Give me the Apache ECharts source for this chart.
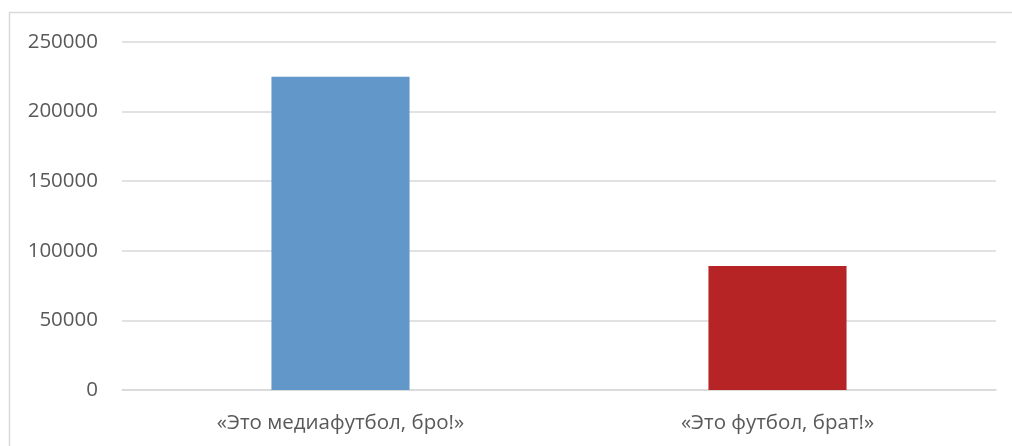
<!DOCTYPE html>
<html><head><meta charset="utf-8">
<script src="https://cdn.jsdelivr.net/npm/echarts@6/dist/echarts.min.js"></script>
<style>html,body{margin:0;padding:0;background:#fff;overflow:hidden}#c{width:1012px;height:446px}</style>
</head><body><div id="c"></div>
<script>
const categories = ["«Это медиафутбол, бро!»", "«Это футбол, брат!»"];
const values = [225000, 89000];
const barColors = ["#6297C9", "#B72426"];

const chart = echarts.init(document.getElementById('c'), null, {renderer: 'canvas'});
chart.setOption({
  animation: false,
  backgroundColor: '#fff',
  graphic: [{
    type: 'polyline', silent: true,
    shape: {points: [[9.5, 446], [9.5, 12.5], [1012, 12.5]]},
    style: {fill: 'none', stroke: '#d9d9d9', lineWidth: 1.5}
  }],
  grid: {left: 122, right: 16, top: 42, bottom: 56},
  xAxis: {
    type: 'category', data: categories,
    axisLine: {lineStyle: {color: '#d9d9d9', width: 1.5}},
    axisTick: {show: false},
    axisLabel: {color: '#595959', fontSize: 20.5, fontFamily: 'Open Sans, Noto Sans, sans-serif', margin: 23}
  },
  yAxis: {
    type: 'value', min: 0, max: 250000, interval: 50000,
    axisLine: {show: false}, axisTick: {show: false},
    splitLine: {lineStyle: {color: '#d9d9d9', width: 1.5}},
    axisLabel: {color: '#595959', fontSize: 20.5, fontFamily: 'Open Sans, Noto Sans, sans-serif', margin: 24,
      formatter: v => String(v)}
  },
  series: [{
    type: 'bar', barWidth: '31.6%',
    data: values.map((v, i) => ({value: v, itemStyle: {color: barColors[i]}}))
  }]
});
</script></body></html>
